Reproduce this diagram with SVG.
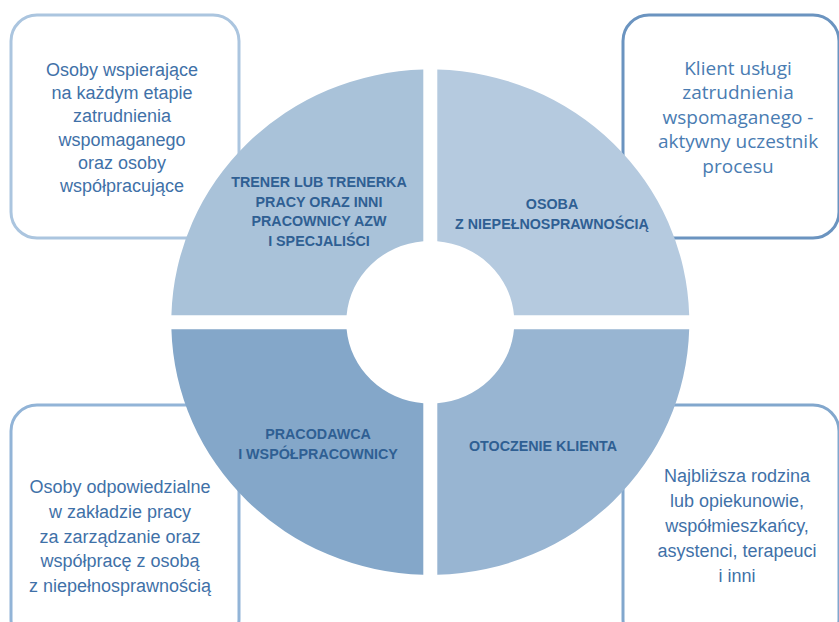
<svg xmlns="http://www.w3.org/2000/svg" width="839" height="622" viewBox="0 0 839 622">
<style>
.box{fill:#ffffff;stroke-width:3}
.bt{font-family:"Liberation Sans",Arial,sans-serif;font-size:18px;fill:#3f71a8;text-anchor:middle}
.bq{font-family:"Open Sans","Noto Sans",sans-serif;font-size:19px;fill:#4a7cb2;text-anchor:middle}
.ql{font-family:"Liberation Sans",Arial,sans-serif;font-size:14.3px;font-weight:bold;fill:#2f5f93;text-anchor:middle}
</style>
<rect width="839" height="622" fill="#ffffff"/>
<g id="box-tl">
<rect class="box" x="11" y="15" width="228" height="223" rx="26" stroke="#abc5df"/>
<text class="bt" x="122" y="76">Osoby wspierające</text>
<text class="bt" x="122" y="99">na każdym etapie</text>
<text class="bt" x="122" y="122">zatrudnienia</text>
<text class="bt" x="122" y="146">wspomaganego</text>
<text class="bt" x="122" y="169">oraz osoby</text>
<text class="bt" x="122" y="192">współpracujące</text>
</g>
<g id="box-tr">
<rect class="box" x="623" y="15" width="216" height="223" rx="26" stroke="#6b94c0"/>
<text class="bq" x="738" y="75">Klient usługi</text>
<text class="bq" x="738" y="99">zatrudnienia</text>
<text class="bq" x="738" y="124">wspomaganego -</text>
<text class="bq" x="738" y="148">aktywny uczestnik</text>
<text class="bq" x="738" y="173">procesu</text>
</g>
<g id="box-bl">
<rect class="box" x="11" y="405" width="228" height="240" rx="26" stroke="#92b4d7"/>
<text class="bt" x="120" y="493">Osoby odpowiedzialne</text>
<text class="bt" x="120" y="518">w zakładzie pracy</text>
<text class="bt" x="120" y="543">za zarządzanie oraz</text>
<text class="bt" x="120" y="567">współpracę z osobą</text>
<text class="bt" x="120" y="592">z niepełnosprawnością</text>
</g>
<g id="box-br">
<rect class="box" x="623" y="405" width="216" height="240" rx="26" stroke="#82a7cd"/>
<text class="bt" x="737" y="482">Najbliższa rodzina</text>
<text class="bt" x="737" y="507">lub opiekunowie,</text>
<text class="bt" x="737" y="532">współmieszkańcy,</text>
<text class="bt" x="737" y="557">asystenci, terapeuci</text>
<text class="bt" x="737" y="582">i inni</text>
</g>
<g id="q-tl">
<path d="M423.3,69.59 A259,252.7 0 0 0 171.4,315.2 L346.61,315.2 A84,81.3 0 0 1 423.3,241.18 Z" fill="#a9c2d9"/>
<text class="ql" x="319" y="187">TRENER LUB TRENERKA</text>
<text class="ql" x="319" y="207">PRACY ORAZ INNI</text>
<text class="ql" x="319" y="226">PRACOWNICY AZW</text>
<text class="ql" x="319" y="246">I SPECJALIŚCI</text>
</g>
<g id="q-tr">
<path d="M437.3,69.59 A259,252.7 0 0 1 689.2,315.2 L513.99,315.2 A84,81.3 0 0 0 437.3,241.18 Z" fill="#b5cadf"/>
<text class="ql" x="552" y="209">OSOBA</text>
<text class="ql" x="552" y="229">Z NIEPEŁNOSPRAWNOŚCIĄ</text>
</g>
<g id="q-bl">
<path d="M423.3,574.81 A259,252.7 0 0 1 171.4,329.2 L346.61,329.2 A84,81.3 0 0 0 423.3,403.22 Z" fill="#84a7c9"/>
<text class="ql" x="318" y="439">PRACODAWCA</text>
<text class="ql" x="318" y="459">I WSPÓŁPRACOWNICY</text>
</g>
<g id="q-br">
<path d="M437.3,574.81 A259,252.7 0 0 0 689.2,329.2 L513.99,329.2 A84,81.3 0 0 1 437.3,403.22 Z" fill="#98b5d2"/>
<text class="ql" x="543" y="451">OTOCZENIE KLIENTA</text>
</g>
<g id="connectors"/>
</svg>
